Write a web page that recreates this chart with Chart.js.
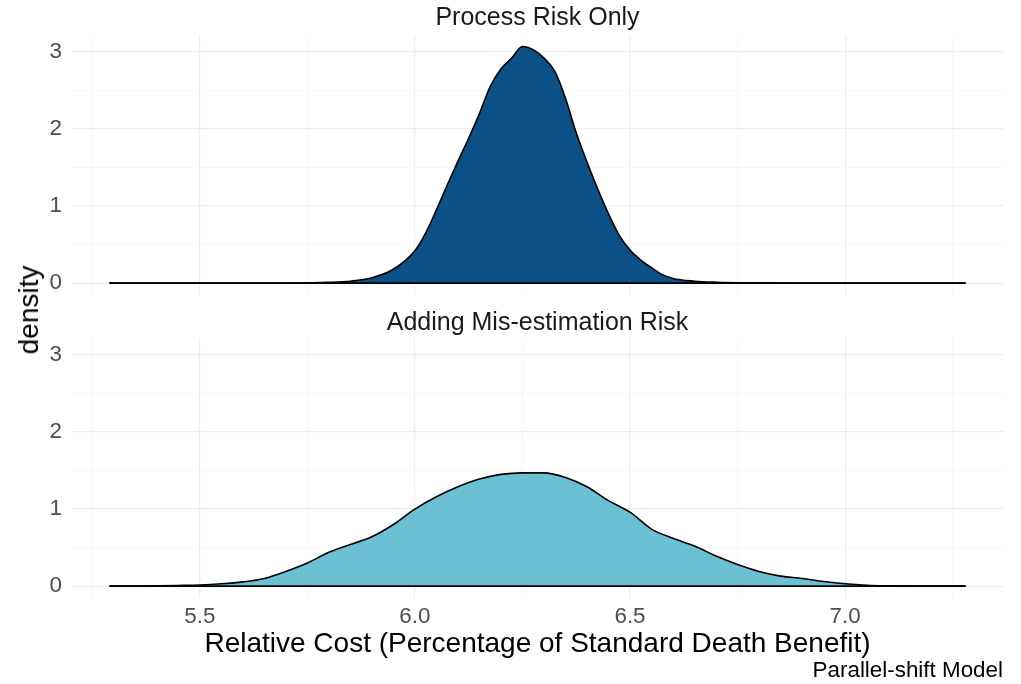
<!DOCTYPE html>
<html>
<head>
<meta charset="utf-8">
<script src="https://cdn.jsdelivr.net/npm/chart.js@4/dist/chart.umd.min.js"></script>
<style>
  html, body { margin: 0; padding: 0; background: #fff; }
  #wrap { position: relative; width: 1021px; height: 684px; background: #fff; overflow: hidden;
          font-family: "Liberation Sans", Arial, sans-serif; }
  canvas { position: absolute; left: 0; }
  .lbl { position: absolute; white-space: nowrap; line-height: 1; }
</style>
</head>
<body>
<div id="wrap">
  <canvas id="c1" width="1021" height="330" style="top:0px;width:1021px;height:330px"></canvas>
  <canvas id="c2" width="1021" height="384" style="top:300px;width:1021px;height:384px"></canvas>
  <div class="lbl" id="t1" style="font-size:25px;color:#1a1a1a;left:0;width:1075px;text-align:center;top:4px">Process Risk Only</div>
  <div class="lbl" id="t2" style="font-size:25px;color:#1a1a1a;left:0;width:1075px;text-align:center;top:309px">Adding Mis-estimation Risk</div>
  <div class="lbl" id="ylab" style="font-size:28px;color:#000;left:29px;top:310px;transform:translate(-50%,-50%) rotate(-90deg);transform-origin:center">density</div>
  <div class="lbl" id="cap" style="font-size:22.4px;color:#000;right:18px;top:659px">Parallel-shift Model</div>
</div>
<script>
// ---- data ----
const panelTitles = ["Process Risk Only", "Adding Mis-estimation Risk"];
const xAxisTitle = "Relative Cost (Percentage of Standard Death Benefit)";
const yAxisTitle = "density";
const captionText = "Parallel-shift Model";

const xTickValues = [5.5, 6.0, 6.5, 7.0];
const yTickValues = [0, 1, 2, 3];

const processX = [5.29, 5.5, 5.7, 5.8, 5.85, 5.9, 5.95, 6.0, 6.025, 6.05, 6.075, 6.1, 6.125, 6.15, 6.175, 6.2, 6.225, 6.25, 6.275, 6.3, 6.325, 6.35, 6.375, 6.4, 6.425, 6.45, 6.475, 6.5, 6.525, 6.55, 6.575, 6.6, 6.65, 6.7, 6.8, 6.9, 7.28];
const processY = [0, 0, 0.002, 0.01, 0.025, 0.07, 0.18, 0.42, 0.65, 0.95, 1.27, 1.58, 1.88, 2.2, 2.55, 2.78, 2.92, 3.07, 3.03, 2.92, 2.75, 2.40, 1.95, 1.57, 1.22, 0.90, 0.62, 0.43, 0.30, 0.20, 0.11, 0.06, 0.025, 0.012, 0.004, 0.001, 0];

const misestX = [5.29, 5.35, 5.4, 5.45, 5.5, 5.55, 5.6, 5.65, 5.7, 5.75, 5.8, 5.85, 5.9, 5.95, 6.0, 6.05, 6.1, 6.15, 6.2, 6.25, 6.3, 6.35, 6.4, 6.45, 6.5, 6.55, 6.6, 6.65, 6.7, 6.75, 6.8, 6.85, 6.9, 6.95, 7.0, 7.05, 7.1, 7.2, 7.28];
const misestY = [0, 0.001, 0.003, 0.008, 0.015, 0.03, 0.055, 0.10, 0.19, 0.30, 0.44, 0.54, 0.64, 0.80, 1.0, 1.16, 1.29, 1.39, 1.45, 1.47, 1.47, 1.41, 1.29, 1.11, 0.96, 0.74, 0.62, 0.52, 0.39, 0.28, 0.19, 0.13, 0.10, 0.06, 0.03, 0.012, 0.005, 0.001, 0];

// ---- styling / layout ----
const FILL_TOP = "#0b5086";
const FILL_BOT = "#6cc0d4";
const X_MIN = 5.203, X_MAX = 7.367;
const Y_MIN = -0.154, Y_MAX = 3.22;
const PLOT_LEFT = 72, RIGHT_PAD = 18;
const GRID_MAJOR = "#eeeeee", GRID_MINOR = "#f6f6f6";

document.getElementById('t1').textContent = panelTitles[0];
document.getElementById('t2').textContent = panelTitles[1];
document.getElementById('ylab').textContent = yAxisTitle;
document.getElementById('cap').textContent = captionText;

function minorsBetween(vals) {
  const step = vals[1] - vals[0];
  const out = [];
  out.push(vals[0] - step / 2);
  vals.forEach(v => { out.push(v); out.push(v + step / 2); });
  return out;
}
const xGridValues = minorsBetween(xTickValues);
const yGridValues = minorsBetween(yTickValues);
const isMajor = (v, majors) => majors.some(m => Math.abs(m - v) < 1e-6);

function buildChart(canvasId, xs, ys, fillColor, showXAxis, topPad, bottomPad, wantTop, wantBottom) {
  const pts = xs.map((x, i) => ({ x: x, y: ys[i] }));
  const base = [{ x: xs[0], y: 0 }, { x: xs[xs.length - 1], y: 0 }];
  const chart = new Chart(document.getElementById(canvasId), {
    type: 'line',
    data: {
      datasets: [
        { data: base, borderColor: '#000', borderWidth: 1.6, pointRadius: 0, fill: false, order: 0 },
        { data: pts, borderColor: '#000', borderWidth: 1.6, backgroundColor: fillColor,
          fill: 'origin', pointRadius: 0, cubicInterpolationMode: 'monotone', order: 1 }
      ]
    },
    options: {
      responsive: false,
      animation: false,
      devicePixelRatio: 1,
      layout: { padding: { left: 0, right: RIGHT_PAD, top: topPad, bottom: bottomPad } },
      plugins: { legend: { display: false }, tooltip: { enabled: false }, title: { display: false } },
      scales: {
        x: {
          type: 'linear', min: X_MIN, max: X_MAX,
          afterBuildTicks: s => { s.ticks = xGridValues.map(v => ({ value: v })); },
          afterFit: s => { s.height = showXAxis ? 86 : 0; },
          grid: {
            drawTicks: false,
            color: c => isMajor(c.tick.value, xTickValues) ? GRID_MAJOR : GRID_MINOR,
            lineWidth: c => isMajor(c.tick.value, xTickValues) ? 1.2 : 0.8
          },
          border: { display: false },
          ticks: {
            display: showXAxis, padding: 5, color: '#4d4d4d',
            font: { family: 'Liberation Sans', size: 22.4 },
            autoSkip: false, maxRotation: 0,
            callback: v => isMajor(v, xTickValues) ? v.toFixed(1) : ''
          },
          title: {
            display: showXAxis, text: xAxisTitle, color: '#000',
            font: { family: 'Liberation Sans', size: 28 },
            padding: { top: 0, bottom: 23 }
          }
        },
        y: {
          type: 'linear', min: Y_MIN, max: Y_MAX,
          afterBuildTicks: s => { s.ticks = yGridValues.filter(v => v >= 0 && v <= Y_MAX).map(v => ({ value: v })); },
          afterFit: s => { s.width = PLOT_LEFT; },
          grid: {
            drawTicks: false,
            color: c => isMajor(c.tick.value, yTickValues) ? GRID_MAJOR : GRID_MINOR,
            lineWidth: c => isMajor(c.tick.value, yTickValues) ? 1.2 : 0.8
          },
          border: { display: false },
          ticks: {
            padding: 10, color: '#4d4d4d',
            font: { family: 'Liberation Sans', size: 22.4 },
            autoSkip: false,
            callback: v => isMajor(v, yTickValues) ? String(Math.round(v)) : ''
          }
        }
      }
    }
  });
  // nudge the layout padding so the plotting area lands where the reference has it
  for (let k = 0; k < 3; k++) {
    const ca = chart.chartArea;
    const p = chart.options.layout.padding;
    const dT = wantTop - ca.top, dB = ca.bottom - wantBottom;
    if (Math.abs(dT) < 0.5 && Math.abs(dB) < 0.5) break;
    p.top = Math.max(0, p.top + dT);
    p.bottom = Math.max(0, p.bottom + dB);
    chart.update();
  }
  return chart;
}

buildChart('c1', processX, processY, FILL_TOP, false, 35, 35, 35, 295);
buildChart('c2', misestX, misestY, FILL_BOT, true, 38, 0, 38, 298);
</script>
</body>
</html>
